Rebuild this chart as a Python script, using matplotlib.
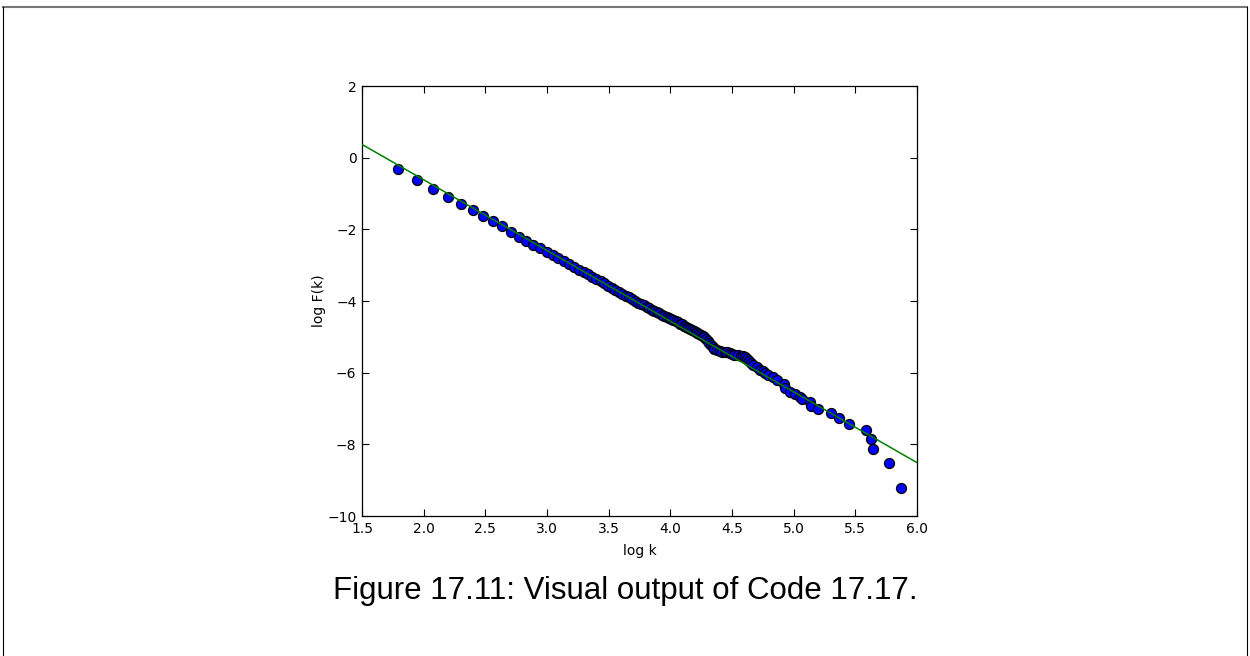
import matplotlib
matplotlib.use("Agg")
import matplotlib.pyplot as plt
from matplotlib.lines import Line2D

# log k of the degree values shown
log_k = [
    1.792, 1.946, 2.079, 2.197, 2.303, 2.398, 2.485, 2.565, 2.639, 2.708,
    2.773, 2.833, 2.890, 2.944, 2.996, 3.045, 3.091, 3.135, 3.178, 3.219,
    3.258, 3.296, 3.332, 3.367, 3.401, 3.434, 3.466, 3.497, 3.526, 3.555,
    3.584, 3.611, 3.638, 3.664, 3.689, 3.714, 3.738, 3.761, 3.784, 3.807,
    3.829, 3.850, 3.871, 3.892, 3.912, 3.932, 3.951, 3.970, 3.989, 4.007,
    4.025, 4.043, 4.060, 4.078, 4.094, 4.111, 4.127, 4.143, 4.159, 4.174,
    4.190, 4.205, 4.220, 4.234, 4.248, 4.263, 4.277, 4.290, 4.304, 4.317,
    4.331, 4.344, 4.357, 4.380, 4.403, 4.420, 4.440, 4.457, 4.480, 4.498,
    4.520, 4.550, 4.573, 4.590, 4.605, 4.620, 4.640, 4.655, 4.673, 4.700,
    4.727, 4.750, 4.768, 4.794, 4.835, 4.862, 4.924, 4.930, 4.970, 5.011,
    5.051, 5.065, 5.133, 5.138, 5.200, 5.300, 5.370, 5.451, 5.584, 5.625,
    5.646, 5.776, 5.870,
]

# log F(k)
log_F = [
    -0.325, -0.632, -0.875, -1.090, -1.293, -1.469, -1.628, -1.768, -1.916, -2.066,
    -2.204, -2.322, -2.430, -2.531, -2.634, -2.726, -2.812, -2.893, -2.973, -3.049,
    -3.121, -3.196, -3.257, -3.326, -3.384, -3.449, -3.502, -3.573, -3.640, -3.688,
    -3.735, -3.798, -3.851, -3.893, -3.942, -4.001, -4.049, -4.084, -4.120, -4.165,
    -4.198, -4.240, -4.271, -4.313, -4.342, -4.382, -4.409, -4.447, -4.474, -4.510,
    -4.535, -4.571, -4.594, -4.630, -4.652, -4.685, -4.727, -4.758, -4.790, -4.809,
    -4.841, -4.861, -4.890, -4.918, -4.946, -4.975, -5.003, -5.048, -5.106, -5.162,
    -5.229, -5.295, -5.341, -5.376, -5.396, -5.415, -5.425, -5.432, -5.464, -5.488,
    -5.500, -5.512, -5.527, -5.541, -5.555, -5.610, -5.667, -5.729, -5.787, -5.851,
    -5.926, -5.967, -6.002, -6.066, -6.113, -6.205, -6.325, -6.437, -6.532, -6.604,
    -6.671, -6.736, -6.811, -6.923, -7.023, -7.135, -7.274, -7.433, -7.609, -7.844,
    -8.123, -8.530, -9.228,
]

# fitted line, read at the axis edges
fit_x = [1.5, 6.0]
fit_y = [0.37, -8.51]

x_ticks = [1.5, 2.0, 2.5, 3.0, 3.5, 4.0, 4.5, 5.0, 5.5, 6.0]
y_ticks = [2, 0, -2, -4, -6, -8, -10]

caption = "Figure 17.11: Visual output of Code 17.17."

plt.rcParams['font.family'] = ['DejaVu Sans']

fig = plt.figure(figsize=(12.5, 6.56), dpi=100)
ax = fig.add_axes([0.2896, 0.2134, 0.444, 0.6555])

ax.plot(log_k, log_F, 'o', color='#0000ff', markeredgecolor='black',
        markeredgewidth=0.9, markersize=7.2, zorder=2)
ax.plot(fit_x, fit_y, '-', color='#008000', lw=1.1, zorder=3)

ax.set_xlim(1.5, 6.0)
ax.set_ylim(-10, 2)
ax.set_xticks(x_ticks)
ax.set_yticks(y_ticks)
ax.set_xticklabels([f"{t:.1f}" for t in x_ticks])
ax.tick_params(direction='in', top=True, right=True, length=5, width=0.8,
               labelsize=10, pad=4)
for s in ax.spines.values():
    s.set_linewidth(0.9)
ax.set_xlabel("log k", fontsize=10, labelpad=6)
ax.set_ylabel("log F(k)", fontsize=10, labelpad=1)

# page frame around the figure
W, H = 1250, 656
fig.add_artist(Line2D([3 / W, 1247 / W], [1 - 7 / H, 1 - 7 / H],
                      transform=fig.transFigure, color='#777777', lw=1.5))
fig.add_artist(Line2D([3 / W, 3 / W], [0, 1 - 7 / H],
                      transform=fig.transFigure, color='black', lw=0.8))
fig.add_artist(Line2D([1247 / W, 1247 / W], [0, 1 - 7 / H],
                      transform=fig.transFigure, color='black', lw=0.8))

fig.text(0.5, 1 - 591 / H, caption, ha='center', va='center',
         fontsize=22.5, family=['Liberation Sans', 'DejaVu Sans'])

fig.savefig("out.png", dpi=100)
